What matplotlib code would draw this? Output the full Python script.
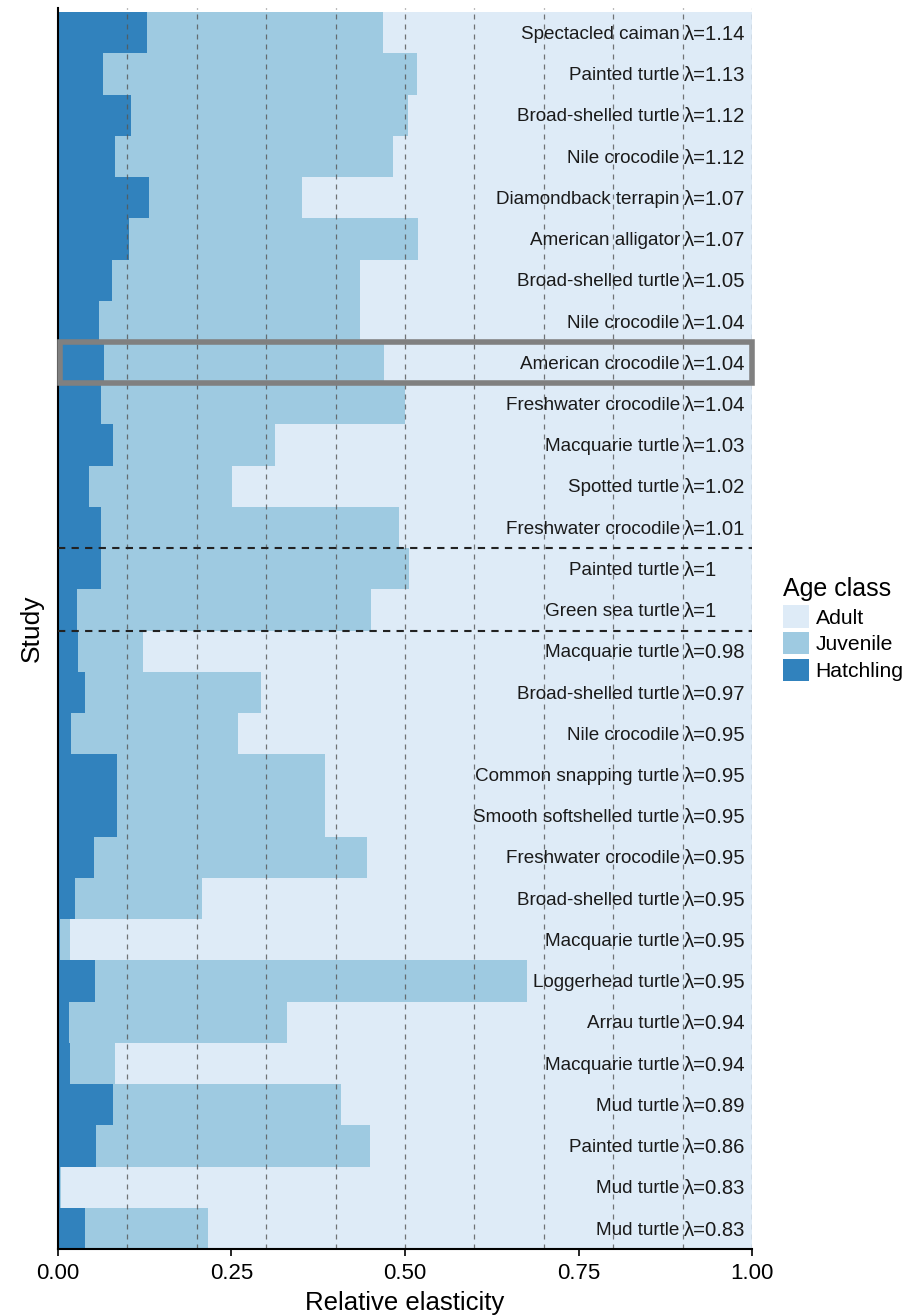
import matplotlib
matplotlib.use('Agg')
from matplotlib import pyplot as plt
from matplotlib.patches import Rectangle, Patch

plt.rcParams['font.family'] = ['Liberation Sans', 'DejaVu Sans']

# studies, top to bottom
species = ['Spectacled caiman', 'Painted turtle', 'Broad-shelled turtle', 'Nile crocodile',
           'Diamondback terrapin', 'American alligator', 'Broad-shelled turtle', 'Nile crocodile',
           'American crocodile', 'Freshwater crocodile', 'Macquarie turtle', 'Spotted turtle',
           'Freshwater crocodile', 'Painted turtle', 'Green sea turtle', 'Macquarie turtle',
           'Broad-shelled turtle', 'Nile crocodile', 'Common snapping turtle',
           'Smooth softshelled turtle', 'Freshwater crocodile', 'Broad-shelled turtle',
           'Macquarie turtle', 'Loggerhead turtle', 'Arrau turtle', 'Macquarie turtle',
           'Mud turtle', 'Painted turtle', 'Mud turtle', 'Mud turtle']
lambdas = ['1.14', '1.13', '1.12', '1.12', '1.07', '1.07', '1.05', '1.04', '1.04', '1.04',
           '1.03', '1.02', '1.01', '1', '1', '0.98', '0.97', '0.95', '0.95', '0.95',
           '0.95', '0.95', '0.95', '0.95', '0.94', '0.94', '0.89', '0.86', '0.83', '0.83']

# relative elasticity per age class
hatchling = [0.128, 0.065, 0.105, 0.082, 0.131, 0.102, 0.078, 0.059, 0.066, 0.062,
             0.079, 0.045, 0.062, 0.062, 0.027, 0.029, 0.039, 0.019, 0.085, 0.085,
             0.052, 0.024, 0.003, 0.053, 0.016, 0.017, 0.079, 0.055, 0.003, 0.039]
juvenile = [0.340, 0.452, 0.399, 0.401, 0.221, 0.417, 0.357, 0.376, 0.404, 0.438,
            0.234, 0.206, 0.429, 0.444, 0.424, 0.093, 0.253, 0.240, 0.300, 0.300,
            0.393, 0.183, 0.014, 0.623, 0.314, 0.065, 0.329, 0.395, 0.001, 0.177]
adult = [1 - h - j for h, j in zip(hatchling, juvenile)]

highlight = 'American crocodile'

c_adult = '#deebf7'
c_juv = '#9ecae1'
c_hatch = '#3182bd'

fig = plt.figure(figsize=(9.19, 13.16), dpi=100)
ax = fig.add_axes([0.0631, 0.0509, 0.8183 - 0.0631, 0.9939 - 0.0509])

n = len(species)
ypos = [n - 1 - i for i in range(n)]

left_juv = hatchling
left_adult = [h + j for h, j in zip(hatchling, juvenile)]
ax.barh(ypos, hatchling, height=1, color=c_hatch, zorder=1)
ax.barh(ypos, juvenile, left=left_juv, height=1, color=c_juv, zorder=1)
ax.barh(ypos, adult, left=left_adult, height=1, color=c_adult, zorder=1)

for x in [0.1 * k for k in range(1, 11)]:
    ax.axvline(x, color='#555555', lw=0.9, dashes=(4, 4), alpha=0.8, zorder=2)

for y, sp, lam in zip(ypos, species, lambdas):
    ax.text(0.896, y - 0.04, sp, ha='right', va='center', fontsize=13.6, color='#1a1a1a',
            zorder=3)
    ax.text(0.902, y - 0.04, '\u03bb=' + lam, ha='left', va='center', fontsize=14.6,
            color='#1a1a1a', zorder=3)

# lines bracketing lambda == 1
ones = [y for y, lam in zip(ypos, lambdas) if lam == '1']
ax.axhline(max(ones) + 0.5, color='#222222', lw=1.5, dashes=(3.5, 3), zorder=3)
ax.axhline(min(ones) - 0.5, color='#222222', lw=1.5, dashes=(3.5, 3), zorder=3)

yh = ypos[species.index(highlight)]
ax.add_patch(Rectangle((0.003, yh - 0.5), 0.997, 1, fill=False, edgecolor='#808080',
                       lw=4, zorder=4, clip_on=False))

ax.set_xlim(0, 1)
ax.set_ylim(-0.5, n - 0.4)
ax.set_xticks([0, 0.25, 0.5, 0.75, 1.0])
ax.set_xticklabels(['0.00', '0.25', '0.50', '0.75', '1.00'], fontsize=16)
ax.set_yticks([])
ax.tick_params(axis='x', length=5, width=1.2, color='black', pad=5)
ax.spines['top'].set_visible(False)
ax.spines['right'].set_visible(False)
ax.spines['left'].set_linewidth(1.5)
ax.spines['bottom'].set_linewidth(1.5)
ax.set_xlabel('Relative elasticity', fontsize=18.5, labelpad=5)
ax.set_ylabel('Study', fontsize=19, labelpad=10)

handles = [Patch(facecolor=c_adult, label='Adult'),
           Patch(facecolor=c_juv, label='Juvenile'),
           Patch(facecolor=c_hatch, label='Hatchling')]
leg = fig.legend(handles=handles, title='Age class', loc='center left',
                 bbox_to_anchor=(0.852, 0.522), frameon=False, fontsize=15.2,
                 title_fontsize=18, handlelength=1.25, handleheight=1.25,
                 handletextpad=0.3, labelspacing=0.2, borderpad=0, borderaxespad=0)
leg._legend_box.align = 'left'

fig.savefig('out.png', dpi=100)
